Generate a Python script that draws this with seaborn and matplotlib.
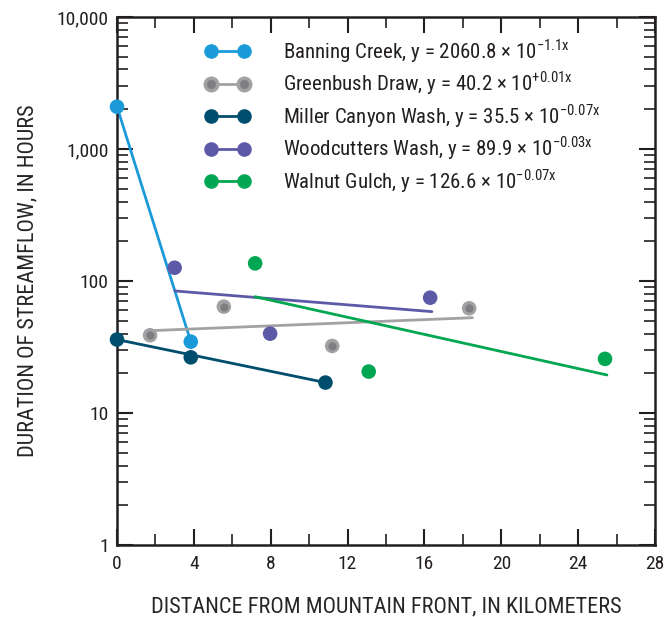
import matplotlib
matplotlib.use("Agg")
import matplotlib.pyplot as plt
from matplotlib import font_manager
from matplotlib.lines import Line2D
from matplotlib.ticker import FixedLocator, LogLocator, NullFormatter, MultipleLocator
import pandas as pd
import seaborn as sns

# Data
sites = ["Banning Creek", "Greenbush Draw", "Miller Canyon Wash", "Woodcutters Wash", "Walnut Gulch"]
colors = ["#1b9ad9", "#a2a2a4", "#004e6d", "#5c5aa7", "#00a651"]
equations = [
    r"y = 2060.8 × 10$^{\mathregular{-1.1x}}$",
    r"y = 40.2 × 10$^{\mathregular{+0.01x}}$",
    r"y = 35.5 × 10$^{\mathregular{-0.07x}}$",
    r"y = 89.9 × 10$^{\mathregular{-0.03x}}$",
    r"y = 126.6 × 10$^{\mathregular{-0.07x}}$",
]
x_ticks = [0, 4, 8, 12, 16, 20, 24, 28]
y_ticks = [1, 10, 100, 1000, 10000]
y_tick_labels = ["1", "10", "100", "1,000", "10,000"]

banning_km = [0, 3.84]
banning_hours = [2090, 34.7]
greenbush_km = [1.72, 5.56, 11.2, 18.33]
greenbush_hours = [38.8, 63.9, 32.2, 62.1]
miller_km = [0, 3.84, 10.85]
miller_hours = [36.0, 26.4, 17.0]
woodcutters_km = [3.0, 7.97, 16.3]
woodcutters_hours = [126, 39.9, 74.7]
walnut_km = [7.19, 13.1, 25.4]
walnut_hours = [136, 20.6, 25.7]

# fitted lines (start / end of each line)
fit_km_start = [0, 1.68, 0, 3.02, 7.19]
fit_km_end = [3.84, 18.5, 10.85, 16.39, 25.5]
fit_hours_start = [2090, 42.0, 36.0, 84.0, 76.0]
fit_hours_end = [34.7, 52.7, 17.0, 58.6, 19.4]

points = pd.concat([
    pd.DataFrame({"site": sites[0], "km": banning_km, "hours": banning_hours}),
    pd.DataFrame({"site": sites[1], "km": greenbush_km, "hours": greenbush_hours}),
    pd.DataFrame({"site": sites[2], "km": miller_km, "hours": miller_hours}),
    pd.DataFrame({"site": sites[3], "km": woodcutters_km, "hours": woodcutters_hours}),
    pd.DataFrame({"site": sites[4], "km": walnut_km, "hours": walnut_hours}),
], ignore_index=True)

fits = pd.DataFrame({
    "site": sites * 2,
    "km": fit_km_start + fit_km_end,
    "hours": fit_hours_start + fit_hours_end,
})

# pick a condensed face if one is around
installed = {f.name for f in font_manager.fontManager.ttflist}
narrow = next((n for n in ["Roboto Condensed", "Archivo Narrow", "Liberation Sans Narrow",
                           "Barlow Condensed"] if n in installed), "DejaVu Sans")
ink = "#231f20"

sns.set_style("ticks")
plt.rcParams["font.family"] = [narrow, "DejaVu Sans"]
plt.rcParams["mathtext.fontset"] = "custom"
plt.rcParams["mathtext.rm"] = narrow
plt.rcParams["text.color"] = ink
plt.rcParams["axes.edgecolor"] = ink
plt.rcParams["xtick.color"] = ink
plt.rcParams["ytick.color"] = ink

fig = plt.figure(figsize=(6.64, 6.17), dpi=100)
ax = fig.add_axes([0.1762, 0.1167, 0.8102, 0.8558])

palette = dict(zip(sites, colors))

sns.lineplot(data=fits, x="km", y="hours", hue="site", palette=palette,
             estimator=None, sort=False, units="site", linewidth=2,
             legend=False, ax=ax, zorder=2)
sns.scatterplot(data=points, x="km", y="hours", hue="site", palette=palette,
                s=110, linewidth=0, legend=False, ax=ax, zorder=3, clip_on=False)
# darker centre on the grey dots
gray = points[points["site"] == sites[1]]
sns.scatterplot(data=gray, x="km", y="hours", color="#7e7e80", s=35,
                linewidth=0, legend=False, ax=ax, zorder=4)

ax.set_yscale("log")
ax.set_xlim(0, 28)
ax.set_ylim(1, 10000)
ax.xaxis.set_major_locator(FixedLocator(x_ticks))
ax.xaxis.set_minor_locator(MultipleLocator(2))
ax.set_xticklabels([str(v) for v in x_ticks])
ax.yaxis.set_major_locator(FixedLocator(y_ticks))
ax.yaxis.set_minor_locator(LogLocator(base=10, subs=range(2, 10)))
ax.yaxis.set_minor_formatter(NullFormatter())
ax.set_yticklabels(y_tick_labels)

for side in ax.spines.values():
    side.set_linewidth(1.8)
ax.tick_params(which="both", direction="in", top=True, right=True, labelsize=14)
ax.tick_params(axis="x", pad=7)
ax.tick_params(axis="y", pad=6)
ax.tick_params(which="major", length=11.5, width=1.5)
ax.tick_params(which="minor", length=8, width=1.2)

ax.set_xlabel("DISTANCE FROM MOUNTAIN FRONT, IN KILOMETERS", fontsize=16, labelpad=17)
ax.set_ylabel("DURATION OF STREAMFLOW, IN HOURS", fontsize=16, labelpad=13)

handles = []
for i, site in enumerate(sites):
    if i == 1:
        h = Line2D([0, 1], [0, 0], color=colors[i], lw=2, marker="o", markersize=9,
                   markerfacecolor="#7e7e80", markeredgecolor=colors[i], markeredgewidth=2.5)
    else:
        h = Line2D([0, 1], [0, 0], color=colors[i], lw=2, marker="o", markersize=10.5,
                   markerfacecolor=colors[i], markeredgewidth=0)
    handles.append(h)
labels = [f"{s}, {e}" for s, e in zip(sites, equations)]
ax.legend(handles, labels, loc="upper left", bbox_to_anchor=(0.1636, 0.962), frameon=False,
          fontsize=15, numpoints=2, handlelength=2.16, handletextpad=1.6, labelspacing=0.22,
          borderpad=0, borderaxespad=0)

fig.savefig("out.png", dpi=100)
